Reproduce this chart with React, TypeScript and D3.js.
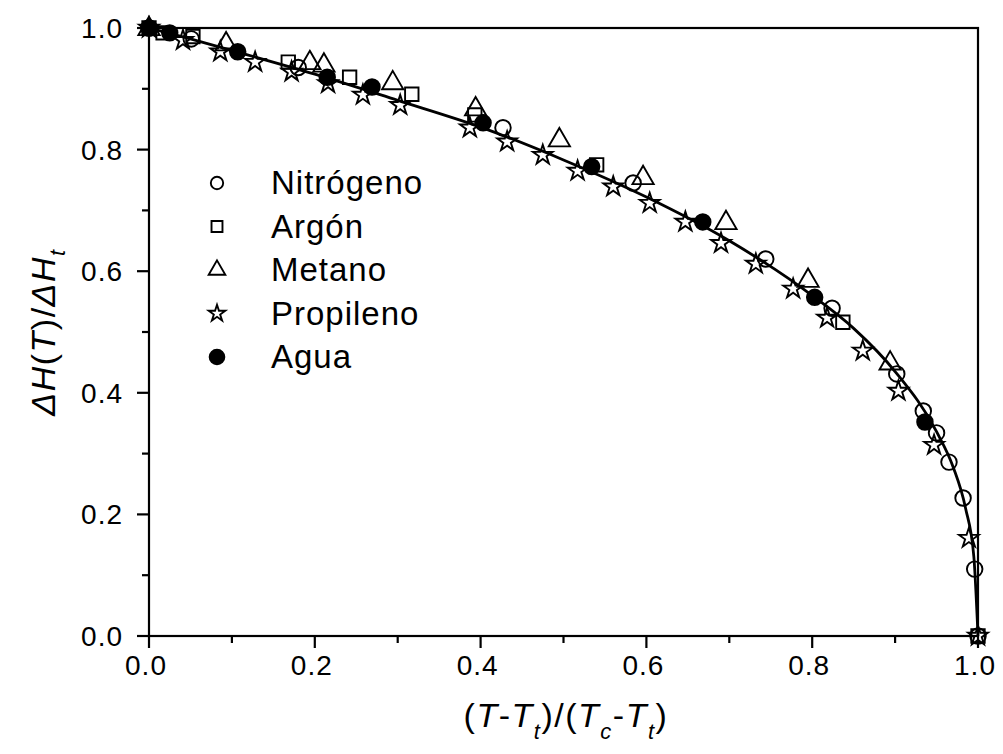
import React from "react";
import * as d3 from "d3";

const xTicks = [0, 0.2, 0.4, 0.6, 0.8, 1.0];
const yTicks = [0, 0.2, 0.4, 0.6, 0.8, 1.0];
const xMinor = [0.1, 0.3, 0.5, 0.7, 0.9];
const yMinor = [0.1, 0.3, 0.5, 0.7, 0.9];

const nitrogenoX = [0, 0.051, 0.18, 0.427, 0.584, 0.744, 0.824, 0.902, 0.934, 0.95, 0.965, 0.982, 0.996, 1.0];
const nitrogenoY = [1.0, 0.982, 0.935, 0.836, 0.745, 0.62, 0.539, 0.431, 0.37, 0.334, 0.286, 0.227, 0.11, 0.0];

const argonX = [0, 0.017, 0.053, 0.168, 0.242, 0.317, 0.393, 0.54, 0.837, 1.0];
const argonY = [1.0, 0.992, 0.986, 0.944, 0.919, 0.891, 0.857, 0.775, 0.516, 0.0];

const metanoX = [0, 0.093, 0.194, 0.211, 0.294, 0.394, 0.495, 0.596, 0.696, 0.795, 0.894];
const metanoY = [1.0, 0.975, 0.944, 0.94, 0.911, 0.868, 0.817, 0.755, 0.681, 0.586, 0.45];

const propilenoX = [0, 0.041, 0.086, 0.128, 0.172, 0.216, 0.258, 0.303, 0.387, 0.432, 0.475, 0.517, 0.56, 0.604, 0.647, 0.69, 0.732, 0.777, 0.818, 0.861, 0.904, 0.947, 0.989, 1.0];
const propilenoY = [1.0, 0.98, 0.961, 0.944, 0.928, 0.909, 0.89, 0.873, 0.836, 0.813, 0.791, 0.765, 0.739, 0.712, 0.681, 0.646, 0.612, 0.571, 0.523, 0.469, 0.403, 0.314, 0.161, 0.0];

const aguaX = [0, 0.025, 0.107, 0.215, 0.269, 0.403, 0.534, 0.668, 0.803, 0.936];
const aguaY = [1.0, 0.992, 0.961, 0.919, 0.903, 0.844, 0.772, 0.681, 0.557, 0.352];

const curveX = [0, 0.05, 0.1, 0.2, 0.3, 0.4, 0.5, 0.6, 0.7, 0.8, 0.85, 0.9, 0.95, 0.97, 0.985, 0.995, 1.0];
const curveY = [1.0, 0.982, 0.963, 0.924, 0.881, 0.837, 0.783, 0.722, 0.65, 0.56, 0.506, 0.435, 0.336, 0.278, 0.21, 0.13, 0.0];

const seriesNames = ["Nitrógeno", "Argón", "Metano", "Propileno", "Agua"];

const W = 1003;
const H = 754;
const left = 149, right = 978, top = 28, bottom = 636;

const x = d3.scaleLinear().domain([0, 1]).range([left, right]);
const y = d3.scaleLinear().domain([0, 1]).range([bottom, top]);

const font = "'Liberation Sans', Arial, Helvetica, sans-serif";

function symbolPath(kind: string): string {
  switch (kind) {
    case "circle":
      return d3.symbol().type(d3.symbolCircle).size(190)()!;
    case "square":
      return d3.symbol().type(d3.symbolSquare).size(180)()!;
    case "triangle":
      return d3.symbol().type(d3.symbolTriangle).size(195)()!;
    case "star":
      return d3.symbol().type(d3.symbolStar).size(120)()!;
    default:
      return d3.symbol().type(d3.symbolCircle).size(190)()!;
  }
}

const series = [
  { name: seriesNames[0], xs: nitrogenoX, ys: nitrogenoY, kind: "circle", fill: "none" },
  { name: seriesNames[1], xs: argonX, ys: argonY, kind: "square", fill: "none" },
  { name: seriesNames[2], xs: metanoX, ys: metanoY, kind: "triangle", fill: "none" },
  { name: seriesNames[3], xs: propilenoX, ys: propilenoY, kind: "star", fill: "none" },
  { name: seriesNames[4], xs: aguaX, ys: aguaY, kind: "circle", fill: "#000" },
];

export default function App() {
  const line = d3
    .line<number>()
    .x((_, i) => x(curveX[i]))
    .y((d) => y(d))
    .curve(d3.curveMonotoneX);
  const linePath = line(curveY) || "";

  const legendX = 217;
  const legendTextX = 271;
  const legendY0 = 183;
  const legendDy = 43.5;

  return (
    <svg
      width={W}
      height={H}
      style={{ position: "absolute", left: 0, top: 0, background: "#fff" }}
      fontFamily={font}
    >
      <rect x={0} y={0} width={W} height={H} fill="#fff" />
      {/* frame */}
      <rect x={left} y={top} width={right - left} height={bottom - top} fill="none" stroke="#000" strokeWidth={2.2} />
      {/* x ticks */}
      {xTicks.map((t) => (
        <g key={"xt" + t}>
          <line x1={x(t)} x2={x(t)} y1={bottom} y2={bottom + 12} stroke="#000" strokeWidth={2.2} />
          <text x={x(t) - 3} y={bottom + 39} textAnchor="middle" fontSize={28} letterSpacing={1} fill="#000">
            {d3.format(".1f")(t)}
          </text>
        </g>
      ))}
      {xMinor.map((t) => (
        <line key={"xm" + t} x1={x(t)} x2={x(t)} y1={bottom} y2={bottom + 7} stroke="#000" strokeWidth={2.2} />
      ))}
      {/* y ticks */}
      {yTicks.map((t) => (
        <g key={"yt" + t}>
          <line x1={left - 12} x2={left} y1={y(t)} y2={y(t)} stroke="#000" strokeWidth={2.2} />
          <text x={left - 26} y={y(t) + 10} textAnchor="end" fontSize={28} letterSpacing={1} fill="#000">
            {d3.format(".1f")(t)}
          </text>
        </g>
      ))}
      {yMinor.map((t) => (
        <line key={"ym" + t} x1={left - 7} x2={left} y1={y(t)} y2={y(t)} stroke="#000" strokeWidth={2.2} />
      ))}
      {/* curve */}
      <path d={linePath} fill="none" stroke="#000" strokeWidth={2.8} />
      {/* points */}
      {series.map((s) =>
        s.xs.map((xv, i) => (
          <path
            key={s.name + i}
            d={symbolPath(s.kind)}
            transform={`translate(${x(xv)},${y(s.ys[i]) + (s.kind === "triangle" ? 1 : 0)})`}
            fill={s.fill === "none" ? "#fff" : s.fill}
            fillOpacity={s.fill === "none" ? 0 : 1}
            stroke="#000"
            strokeWidth={1.9}
          />
        ))
      )}
      {/* legend */}
      {series.map((s, i) => (
        <g key={"lg" + i}>
          <path
            d={s.kind === "star" ? d3.symbol().type(d3.symbolStar).size(85)()! : d3.symbol().type(
              s.kind === "square" ? d3.symbolSquare : s.kind === "triangle" ? d3.symbolTriangle : d3.symbolCircle
            ).size(s.fill === "none" ? 120 : 170)()!}
            transform={`translate(${legendX},${legendY0 + i * legendDy})`}
            fill={s.fill === "none" ? "none" : s.fill}
            stroke="#000"
            strokeWidth={1.9}
          />
          <text x={legendTextX} y={legendY0 + i * legendDy + 11} fontSize={33} letterSpacing={1} fill="#000">
            {s.name}
          </text>
        </g>
      ))}
      {/* axis titles */}
      <text
        transform={`translate(${55},${(top + bottom) / 2}) rotate(-90)`}
        textAnchor="middle"
        fontSize={34}
        letterSpacing={1.5}
        fill="#000"
      >
        <tspan fontStyle="italic">ΔH</tspan>
        <tspan>(</tspan>
        <tspan fontStyle="italic">T</tspan>
        <tspan>)/</tspan>
        <tspan fontStyle="italic">ΔH</tspan>
        <tspan fontStyle="italic" fontSize={22} dy={10}>t</tspan>
      </text>
      <text x={566} y={727} textAnchor="middle" fontSize={34} letterSpacing={1.5} fill="#000">
        <tspan>(</tspan>
        <tspan fontStyle="italic">T</tspan>
        <tspan>-</tspan>
        <tspan fontStyle="italic">T</tspan>
        <tspan fontStyle="italic" fontSize={22} dy={12}>t</tspan>
        <tspan dy={-12}>)/(</tspan>
        <tspan fontStyle="italic">T</tspan>
        <tspan fontStyle="italic" fontSize={22} dy={12}>c</tspan>
        <tspan dy={-12}>-</tspan>
        <tspan fontStyle="italic">T</tspan>
        <tspan fontStyle="italic" fontSize={22} dy={12}>t</tspan>
        <tspan dy={-12}>)</tspan>
      </text>
    </svg>
  );
}
